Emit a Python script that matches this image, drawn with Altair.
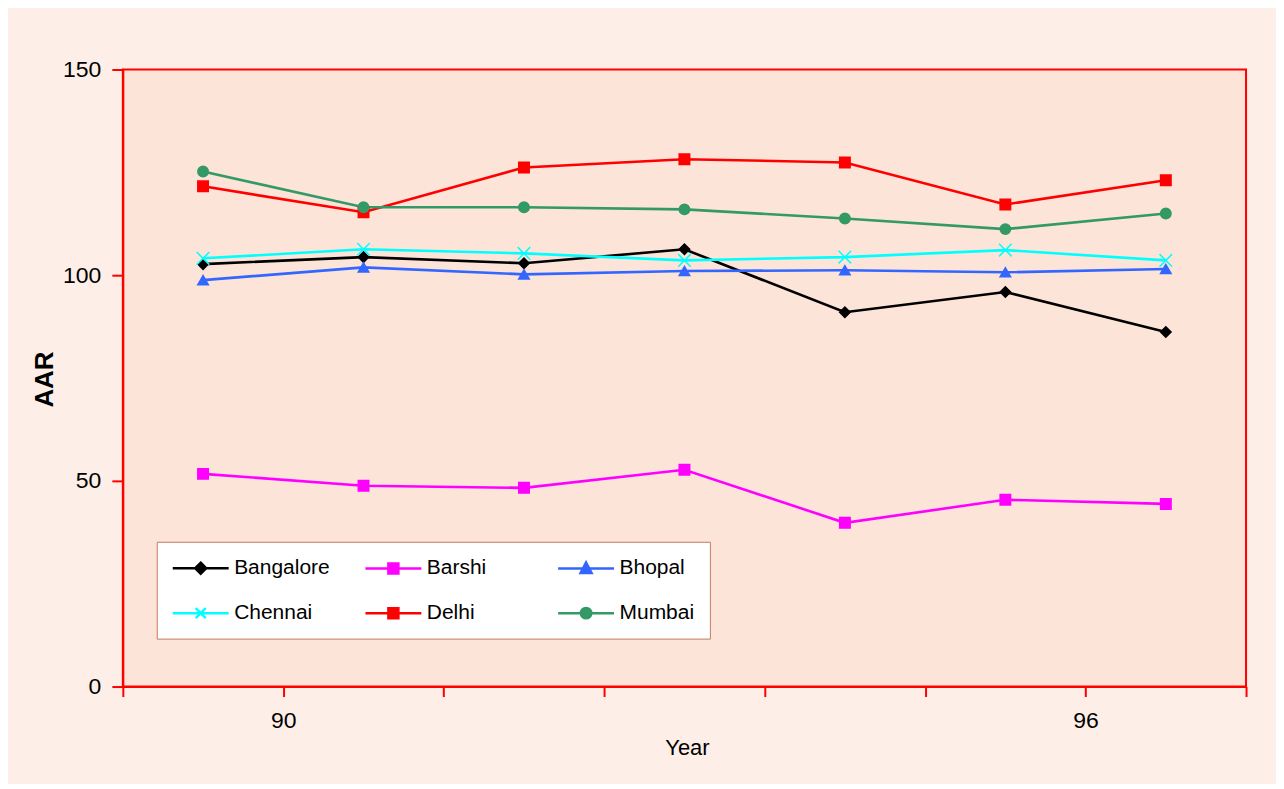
import json
import altair as alt
import pandas as pd

# ---- data ----
cities = ["Bangalore", "Barshi", "Bhopal", "Chennai", "Delhi", "Mumbai"]
colors = ["#000000", "#FF00FF", "#3366FF", "#00FFFF", "#FF0000", "#339966"]
bangalore = [102.7, 104.4, 102.9, 106.3, 91.0, 95.9, 86.2]
barshi = [51.7, 48.8, 48.3, 52.7, 39.8, 45.4, 44.4]
bhopal = [98.8, 101.9, 100.2, 101.0, 101.2, 100.7, 101.5]
chennai = [104.1, 106.3, 105.3, 103.6, 104.4, 106.1, 103.6]
delhi = [121.6, 115.3, 126.2, 128.2, 127.4, 117.2, 123.1]
mumbai = [125.2, 116.5, 116.5, 116.0, 113.8, 111.2, 115.0]
x_tick_labels = ["", "90", "", "", "", "", "96", ""]
y_ticks = [0, 50, 100, 150]

series = [bangalore, barshi, bhopal, chennai, delhi, mumbai]
n_cat = len(bangalore)

rows = []
for city, vals in zip(cities, series):
    for i, v in enumerate(vals):
        rows.append({"city": city, "pos": i + 0.5, "AAR": v})
df = pd.DataFrame(rows)

# marker shapes in the plot
plot_shapes = ["diamond", "square", "triangle-up",
               "M-1.2,-1.2L1.2,1.2M-1.2,1.2L1.2,-1.2", "square", "circle"]
# legend symbols: line segment + marker
seg = "M-2.8,0H2.8"
legend_shapes = [
    seg + "M0,-0.55L0.55,0L0,0.55L-0.55,0Z",
    seg + "M-0.5,-0.5H0.5V0.5H-0.5Z",
    seg + "M0,-0.6L0.55,0.45H-0.55Z",
    seg + "M-0.5,-0.5L0.5,0.5M-0.5,0.5L0.5,-0.5",
    seg + "M-0.5,-0.5H0.5V0.5H-0.5Z",
    seg + "M0.52,0A0.52,0.52,0,1,1,-0.52,0A0.52,0.52,0,1,1,0.52,0Z",
]

RED = "#FF0000"
FONT = "Liberation Sans"

x_enc = alt.X(
    "pos:Q",
    scale=alt.Scale(domain=[0, n_cat], nice=False, zero=False),
    axis=alt.Axis(
        values=list(range(n_cat + 1)),
        labelExpr=json.dumps(x_tick_labels).replace('"', "'") + "[datum.value]",
        grid=False, domainColor=RED, domainWidth=2, tickColor=RED, tickWidth=2,
        tickSize=10, labelPadding=13, labelFontSize=23, labelColor="#000000",
        labelFont=FONT, title="Year", titleFont=FONT, titleFontSize=22,
        titleFontWeight="normal", titleColor="#000000", titleX=565, titleY=68,
        titleBaseline="alphabetic", titleAlign="center",
    ),
)
y_enc = alt.Y(
    "AAR:Q",
    scale=alt.Scale(domain=[0, 150], nice=False),
    axis=alt.Axis(
        values=y_ticks, grid=False, domainColor=RED, domainWidth=2,
        tickColor=RED, tickWidth=2, tickSize=11, labelPadding=11,
        labelFontSize=23, labelColor="#000000", labelFont=FONT,
        title="AAR", titleFont=FONT, titleFontSize=26, titleFontWeight="bold",
        titleColor="#000000", titleAngle=270, titleX=-70, titleY=310,
        titleBaseline="alphabetic", titleAlign="center",
    ),
)

color_scale = alt.Scale(domain=cities, range=colors)

lines = alt.Chart(df).mark_line(strokeWidth=2.6, opacity=1).encode(
    x=x_enc, y=y_enc,
    stroke=alt.Stroke("city:N", scale=color_scale, legend=None),
    detail="city:N",
)

points = alt.Chart(df).mark_point(filled=True, opacity=1, size=110, strokeWidth=1.5).encode(
    x=x_enc, y=y_enc,
    fill=alt.Fill("city:N", scale=color_scale, legend=None),
    stroke=alt.Stroke("city:N", scale=color_scale, legend=None),
    shape=alt.Shape("city:N", scale=alt.Scale(domain=cities, range=plot_shapes), legend=None),
)

legend_layer = alt.Chart(df).transform_filter("false").mark_point(
    filled=True, opacity=1, strokeWidth=2.5
).encode(
    x=x_enc, y=y_enc,
    fill=alt.Fill("city:N", scale=color_scale, legend=alt.Legend(title=None)),
    stroke=alt.Stroke("city:N", scale=color_scale, legend=alt.Legend(title=None)),
    shape=alt.Shape(
        "city:N",
        scale=alt.Scale(domain=cities, range=legend_shapes),
        legend=alt.Legend(
            title=None, orient="none", legendX=34, legendY=473, columns=3,
            direction="horizontal",
            gridAlign="all", columnPadding=30, rowPadding=23, padding=15,
            symbolSize=400, symbolOffset=17.5, labelOffset=22,
            symbolStrokeWidth=2.5, labelFont=FONT, labelFontSize=21,
            labelColor="#000000", labelBaseline="middle",
            fillColor="#FFFFFF", strokeColor="#C47A5A",
        ),
    ),
)

chart = (
    alt.layer(lines, points, legend_layer)
    .resolve_scale(shape="independent", fill="independent", stroke="independent")
    .properties(
        width=1125, height=618,
        autosize=alt.AutoSizeParams(type="none"),
        padding={"left": 115, "top": 61, "right": 30, "bottom": 97},
        background="#FDEFE8",
    )
    .configure_view(fill="#FDE4D9", stroke=RED, strokeWidth=2)
)

chart.save("out.html", embed_options={"renderer": "svg", "actions": False})
